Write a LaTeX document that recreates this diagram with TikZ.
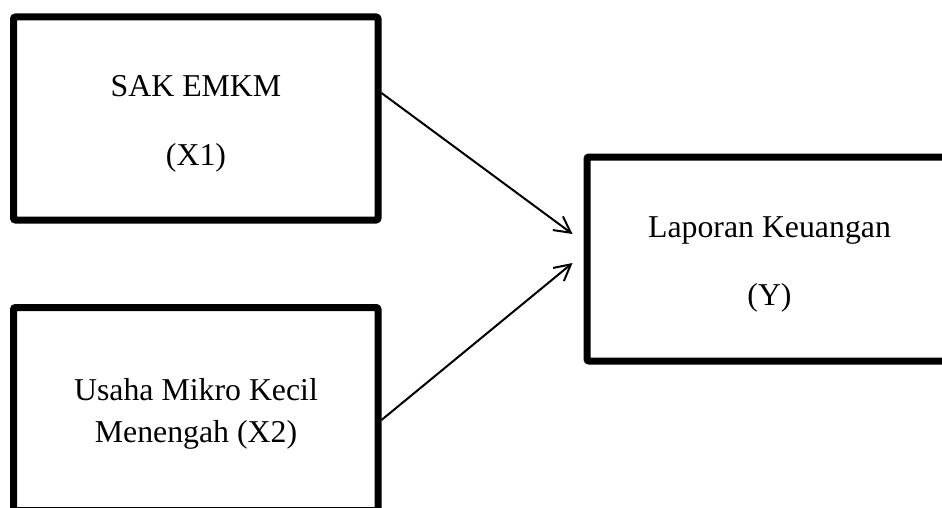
\documentclass[tikz,border=0pt]{standalone}
\usepackage{fontspec}
\setmainfont{Liberation Serif}
\usetikzlibrary{arrows.meta}
\begin{document}
\begin{tikzpicture}[x=0.5pt,y=-0.5pt,
  varbox/.style={draw=black,line width=3.5pt,rounded corners=1pt,inner sep=0pt,
    minimum width=182.25pt,minimum height=101.5pt},
  lbl/.style={anchor=base,inner sep=0pt,font=\fontsize{15.9}{18}\selectfont},
  link/.style={line width=1pt,-{Straight Barb[length=8pt,width=8.5pt,line width=1pt]}}]
\clip (0,0) rectangle (942,508);
\useasboundingbox (0,0) rectangle (942,508);
\node[varbox] (b1) at (195.75,118.5) {};
\node[varbox] (b2) at (195.75,409) {};
\node[varbox,minimum height=102pt] (b3) at (769.25,259) {};
\node[lbl] (t1a) at (196,97) {SAK EMKM};
\node[lbl] (t1b) at (196,165) {(X1)};
\node[lbl] (t2a) at (196,400) {Usaha Mikro Kecil};
\node[lbl] (t2b) at (196,442) {Menengah (X2)};
\node[lbl] (t3a) at (769.5,237) {Laporan Keuangan};
\node[lbl] (t3b) at (769.5,305) {(Y)};
\draw[link] ([yshift=12.75pt]b1.east) -- ([xshift=-5.5pt,yshift=12.5pt]b3.west);
\draw[link] ([yshift=-5.5pt]b2.east) -- ([xshift=-5.5pt,yshift=-2pt]b3.west);
\end{tikzpicture}
\end{document}
